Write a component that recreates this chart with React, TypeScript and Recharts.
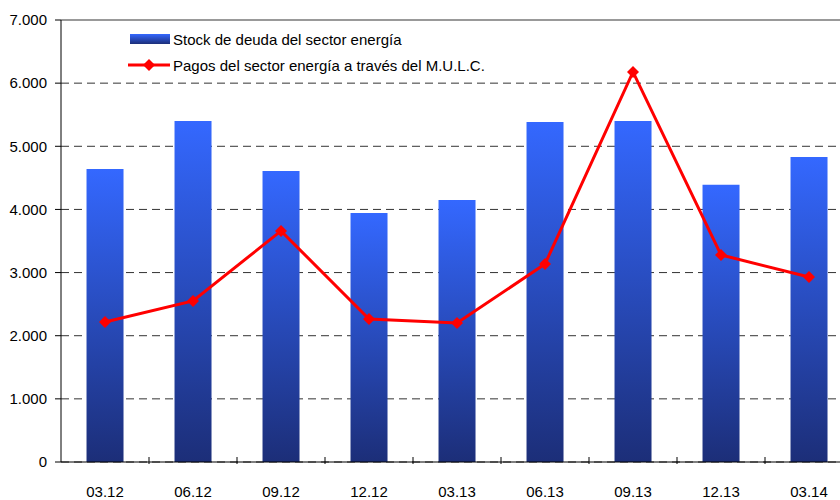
import {
  Bar,
  CartesianGrid,
  ComposedChart,
  Line,
  ReferenceLine,
  XAxis,
  YAxis,
} from "recharts";

const periods = ["03.12", "06.12", "09.12", "12.12", "03.13", "06.13", "09.13", "12.13", "03.14"];
const stockDeuda = [4640, 5400, 4610, 3945, 4150, 5385, 5400, 4390, 4830];
const pagosMulc = [2217, 2550, 3660, 2265, 2200, 3135, 6177, 3280, 2930];
const yTicks = [0, 1000, 2000, 3000, 4000, 5000, 6000, 7000];
const seriesNames = ["Stock de deuda del sector energía", "Pagos del sector energía a través del M.U.L.C."];

const data = periods.map((p, i) => ({ period: p, stock: stockDeuda[i], pagos: pagosMulc[i] }));

const fmt = (v: number) => String(v).replace(/\B(?=(\d{3})+(?!\d))/g, ".");

const BAND = 88;

function XTick({ x, y, payload }: any) {
  return (
    <g>
      <line x1={x + BAND / 2} y1={y - 7} x2={x + BAND / 2} y2={y} stroke="#000" />
      <text x={x} y={y + 33} textAnchor="middle" fontSize={15} fontFamily="Liberation Sans" fill="#000">
        {payload.value}
      </text>
    </g>
  );
}

function Diamond({ cx, cy }: any) {
  if (cx == null || cy == null) return null;
  const r = 6;
  return <path d={`M${cx},${cy - r}L${cx + r},${cy}L${cx},${cy + r}L${cx - r},${cy}Z`} fill="#ff0000" />;
}

function LegendBox() {
  return (
    <div
      style={{
        position: "absolute",
        left: 128,
        top: 26,
        fontFamily: "Liberation Sans",
        fontSize: 15,
        color: "#000",
      }}
    >
      {seriesNames.map((name, i) => (
        <div key={name} style={{ display: "flex", alignItems: "center", height: 26 }}>
          <svg width={45} height={14}>
            <defs>
              <linearGradient id="legGrad" x1="0" y1="0" x2="0" y2="1">
                <stop offset="0%" stopColor="#3468ff" />
                <stop offset="100%" stopColor="#1c2e78" />
              </linearGradient>
            </defs>
            {i === 0 ? (
              <rect x={2} y={2} width={40} height={10} fill="url(#legGrad)" />
            ) : (
              <g>
                <line x1={0} y1={7} x2={42} y2={7} stroke="#ff0000" strokeWidth={3} />
                <path d="M21,1L27,7L21,13L15,7Z" fill="#ff0000" />
              </g>
            )}
          </svg>
          <span>{name}</span>
        </div>
      ))}
    </div>
  );
}

export default function App() {
  return (
    <div
      style={{
        position: "absolute",
        left: 0,
        top: 0,
        width: 840,
        height: 500,
        overflow: "hidden",
        background: "#fff",
      }}
    >
      <ComposedChart
        width={860}
        height={500}
        data={data}
        margin={{ top: 20, right: 7, bottom: 0, left: 0 }}
        barCategoryGap="29%"
        style={{ overflow: "visible" }}
      >
        <defs>
          <linearGradient id="barGrad" x1="0" y1="0" x2="0" y2="1">
            <stop offset="0%" stopColor="#3468ff" />
            <stop offset="100%" stopColor="#1c2e78" />
          </linearGradient>
        </defs>
        <CartesianGrid vertical={false} stroke="#333" strokeDasharray="8 5" />
        <XAxis
          dataKey="period"
          height={38}
          axisLine={{ stroke: "#000" }}
          tickLine={false}
          tickSize={0}
          tick={<XTick />}
          interval={0}
        />
        <YAxis
          width={61}
          domain={[0, 7000]}
          ticks={yTicks}
          tickFormatter={fmt}
          axisLine={{ stroke: "#000" }}
          tickLine={{ stroke: "#000" }}
          tickSize={6}
          tick={{ fontSize: 15, fontFamily: "Liberation Sans", fill: "#000", dx: -6 }}
        />
        <ReferenceLine y={7000} stroke="#999" strokeWidth={2} />
        <Bar dataKey="stock" name={seriesNames[0]} fill="url(#barGrad)" isAnimationActive={false} />
        <Line
          dataKey="pagos"
          name={seriesNames[1]}
          stroke="#ff0000"
          strokeWidth={3}
          dot={<Diamond />}
          activeDot={false}
          isAnimationActive={false}
        />
      </ComposedChart>
      <LegendBox />
    </div>
  );
}
